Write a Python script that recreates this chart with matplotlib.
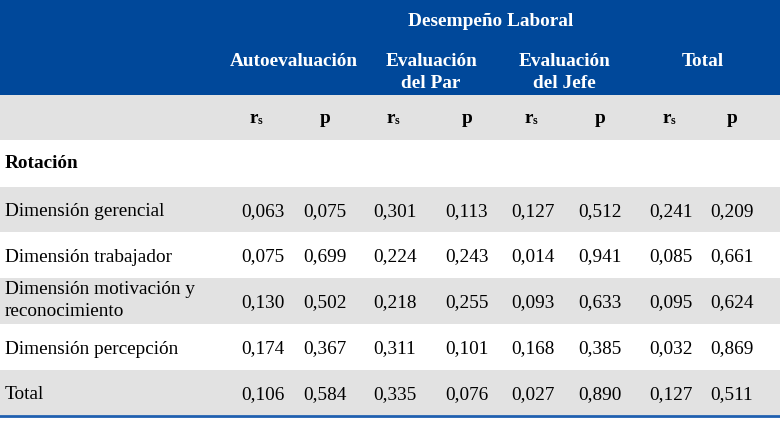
import numpy as np
import matplotlib.pyplot as plt
from matplotlib.patches import Rectangle

# datos de la tabla
grupo = "Desempeño Laboral"
subgrupos = ["Autoevaluación", "Evaluación\ndel Par", "Evaluación\ndel Jefe", "Total"]
seccion = "Rotación"
filas = ["Dimensión gerencial", "Dimensión trabajador",
         "Dimensión motivación y\nreconocimiento", "Dimensión percepción", "Total"]
rs_auto = ["0,063", "0,075", "0,130", "0,174", "0,106"]
p_auto = ["0,075", "0,699", "0,502", "0,367", "0,584"]
rs_par = ["0,301", "0,224", "0,218", "0,311", "0,335"]
p_par = ["0,113", "0,243", "0,255", "0,101", "0,076"]
rs_jefe = ["0,127", "0,014", "0,093", "0,168", "0,027"]
p_jefe = ["0,512", "0,941", "0,633", "0,385", "0,890"]
rs_total = ["0,241", "0,085", "0,095", "0,032", "0,127"]
p_total = ["0,209", "0,661", "0,624", "0,869", "0,511"]

columnas = [rs_auto, p_auto, rs_par, p_par, rs_jefe, p_jefe, rs_total, p_total]

# estilo
azul = '#00489A'
gris = '#E2E2E2'
fuente = 'Liberation Serif'
tam = 13.9
interlinea = 22

fig = plt.figure(figsize=(7.8, 4.21), dpi=100)
ax = fig.add_axes([0, 0, 1, 1])
ax.set_xlim(0, 780)
ax.set_ylim(421, 0)
ax.axis('off')


def texto(x, y, s, size=tam, **kw):
    # escribe cada línea por separado, y = línea base de la primera
    for i, linea in enumerate(s.split("\n")):
        ax.text(x, y + i * interlinea, linea, fontsize=size,
                family=fuente, va='baseline', **kw)


# posiciones de columnas y filas
col_x = [263, 325, 395, 467, 533, 600, 671, 732]
rs_x = [258, 395, 533, 671]
sub_x = [294, 431, 564, 703]
fila_y = [187, 232, 278, 324, 370, 415]

# encabezado azul
ax.add_patch(Rectangle((0, 0), 780, 95, color=azul, lw=0))
texto(491, 26, grupo, color='white', fontweight='bold', ha='center')
for x, s in zip(sub_x, subgrupos):
    texto(x, 66, s, color='white', fontweight='bold', ha='center')

# fila rs / p
ax.add_patch(Rectangle((0, 95), 780, 45, color=gris, lw=0))
for x in rs_x:
    texto(x, 123, "r", fontweight='bold', ha='right')
    texto(x, 124.5, "s", size=tam * 0.62, fontweight='bold', ha='left')
for x in col_x[1::2]:
    texto(x, 123, "p", fontweight='bold', ha='center')

# sección
texto(5, 168, seccion, fontweight='bold', ha='left')

# filas de datos
for k, nombre in enumerate(filas):
    y0, y1 = fila_y[k], fila_y[k + 1]
    if k % 2 == 0:
        ax.add_patch(Rectangle((0, y0), 780, y1 - y0, color=gris, lw=0))
    base = (y0 + y1) / 2 + 6.5
    n = nombre.count("\n")
    texto(5, base - n * interlinea / 2 - 2 * n, nombre, ha='left')
    for x, col in zip(col_x, columnas):
        texto(x, base, col[k], ha='center')

# línea inferior
ax.plot([0, 780], [416, 416], color='#1F5FAF', lw=2)

fig.savefig('out.png', dpi=100)
